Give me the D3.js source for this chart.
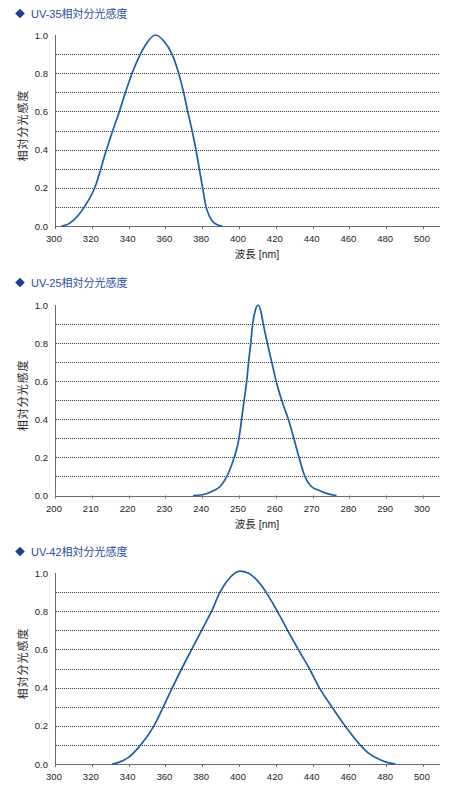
<!DOCTYPE html>
<html>
<head>
<meta charset="utf-8">
<script src="https://cdn.jsdelivr.net/npm/d3@7"></script>
<style>
  body { margin: 0; background: #fff; }
  svg text { font-family: Arial, "Liberation Sans", "Noto Sans CJK JP", sans-serif; }
</style>
</head>
<body>
<div id="chart"></div>
<script>
// UV-35 spectral response (wavelength nm / relative)
const uv35Nm  = [303.5, 306, 310, 313, 316, 321.6, 328, 331.4, 335, 338.3, 341.9, 346.4, 350, 354.5, 359, 363.6, 367.2, 369.9, 372.1, 374.5, 376.6, 378.4, 380.2, 382.1, 384, 386, 388.5, 391];
const uv35Rel = [0, 0.005, 0.03, 0.06, 0.1, 0.2, 0.4, 0.5, 0.6, 0.7, 0.8, 0.9, 0.96, 1.0, 0.97, 0.9, 0.8, 0.7, 0.6, 0.5, 0.4, 0.3, 0.2, 0.1, 0.05, 0.02, 0.005, 0];

// UV-25
const uv25Nm  = [237.5, 240, 243, 245, 246.7, 248, 248.7, 250, 250.7, 251.4, 252.1, 252.6, 253.2, 253.7, 254.4, 255.2, 255.9, 256.6, 257.7, 258.9, 260.1, 261.6, 263.4, 264.9, 266.3, 267.9, 269.5, 272, 274, 276.5];
const uv25Rel = [0, 0.004, 0.025, 0.05, 0.1, 0.16, 0.2, 0.3, 0.4, 0.5, 0.6, 0.7, 0.8, 0.9, 0.97, 1.0, 0.97, 0.9, 0.8, 0.7, 0.6, 0.5, 0.4, 0.3, 0.2, 0.1, 0.05, 0.025, 0.01, 0];

// UV-42
const uv42Nm  = [331, 335, 340, 346.6, 353.8, 358.9, 363.8, 368.9, 374.3, 379.7, 385.1, 389.7, 395, 400.5, 405, 410, 414.7, 420.8, 426.4, 432.2, 438.2, 443.6, 450.4, 457.6, 465.8, 470, 475, 480, 485];
const uv42Rel = [0, 0.01, 0.035, 0.1, 0.2, 0.3, 0.4, 0.5, 0.6, 0.7, 0.8, 0.9, 0.975, 1.01, 1.0, 0.96, 0.9, 0.8, 0.7, 0.6, 0.5, 0.4, 0.3, 0.2, 0.1, 0.06, 0.03, 0.01, 0];

const titles = ["UV-35相対分光感度", "UV-25相対分光感度", "UV-42相対分光感度"];
const xTicks300 = [300, 320, 340, 360, 380, 400, 420, 440, 460, 480, 500];
const xTicks200 = [200, 210, 220, 230, 240, 250, 260, 270, 280, 290, 300];
const yTicks = [0, 0.2, 0.4, 0.6, 0.8, 1.0];
const gridValues = [0.1, 0.2, 0.3, 0.4, 0.5, 0.6, 0.7, 0.8, 0.9];
const yTitle = "相対分光感度";
const xTitle = "波長 [nm]";

const width = 466, height = 786;
const lineColor = "#1b5ea9";
const axisColor = "#6b6b6b";

const svg = d3.select("#chart").append("svg")
    .attr("width", width)
    .attr("height", height);

function drawChart(opts) {
    const { title, nm, rel, ticks, top, bottom, titleY, showXTitle } = opts;
    const left = 55, axisEnd = 440;

    const x = d3.scaleLinear().domain([ticks[0], ticks[ticks.length - 1]]).range([55, 423]);
    const y = d3.scaleLinear().domain([0, 1]).range([bottom, top]);

    const g = svg.append("g");

    // title with diamond marker
    g.append("path")
        .attr("d", d3.symbol().type(d3.symbolDiamond2).size(60)())
        .attr("transform", `translate(20,${titleY})`)
        .attr("fill", "#1d3f92");
    g.append("text")
        .attr("x", 31)
        .attr("y", titleY + 4)
        .attr("font-size", "11px")
        .attr("fill", "#2b4c9b")
        .text(title);

    // dotted grid
    g.selectAll(".grid")
        .data(gridValues)
        .enter().append("line")
        .attr("x1", left + 1)
        .attr("x2", axisEnd)
        .attr("y1", d => Math.round(y(d)) + 0.5)
        .attr("y2", d => Math.round(y(d)) + 0.5)
        .attr("stroke", "#444")
        .attr("stroke-width", 1)
        .attr("stroke-dasharray", "1,1");

    // axes lines
    g.append("line")
        .attr("x1", left + 0.5).attr("x2", left + 0.5)
        .attr("y1", top).attr("y2", bottom)
        .attr("stroke", axisColor);
    g.append("line")
        .attr("x1", left).attr("x2", axisEnd)
        .attr("y1", Math.round(bottom) + 0.5).attr("y2", Math.round(bottom) + 0.5)
        .attr("stroke", axisColor);

    // x ticks
    g.selectAll(".xtick")
        .data(ticks)
        .enter().append("line")
        .attr("x1", d => Math.round(x(d)) + 0.5)
        .attr("x2", d => Math.round(x(d)) + 0.5)
        .attr("y1", bottom)
        .attr("y2", bottom + 3)
        .attr("stroke", axisColor);

    g.selectAll(".xlabel")
        .data(ticks)
        .enter().append("text")
        .attr("x", d => x(d) - 1)
        .attr("y", d => bottom + 16)
        .attr("text-anchor", "middle")
        .attr("font-size", "9.5px")
        .attr("fill", "#222")
        .text(d => d);

    g.selectAll(".ylabel")
        .data(yTicks)
        .enter().append("text")
        .attr("x", left - 7)
        .attr("y", d => y(d) + 3.5)
        .attr("text-anchor", "end")
        .attr("font-size", "9.5px")
        .attr("fill", "#222")
        .text(d => d.toFixed(1));

    // axis titles
    g.append("text")
        .attr("transform", `translate(27,${(top + bottom) / 2 - 5}) rotate(-90)`)
        .attr("text-anchor", "middle")
        .attr("font-size", "11px")
        .attr("letter-spacing", "1px")
        .attr("fill", "#222")
        .text(yTitle);

    if (showXTitle) {
        g.append("text")
            .attr("x", 257)
            .attr("y", bottom + 32)
            .attr("text-anchor", "middle")
            .attr("font-size", "10.5px")
            .attr("fill", "#222")
            .text(xTitle);
    }

    // response curve
    const line = d3.line()
        .x((d, i) => x(nm[i]))
        .y(d => y(d))
        .curve(d3.curveMonotoneX);

    g.append("path")
        .datum(rel)
        .attr("d", line)
        .attr("fill", "none")
        .attr("stroke", lineColor)
        .attr("stroke-width", 1.7);
}

drawChart({ title: titles[0], nm: uv35Nm, rel: uv35Rel, ticks: xTicks300, top: 35, bottom: 226, titleY: 13.5, showXTitle: true });
drawChart({ title: titles[1], nm: uv25Nm, rel: uv25Rel, ticks: xTicks200, top: 305, bottom: 495.5, titleY: 282.5, showXTitle: true });
drawChart({ title: titles[2], nm: uv42Nm, rel: uv42Rel, ticks: xTicks300, top: 573, bottom: 764, titleY: 551.5, showXTitle: false });
</script>
</body>
</html>
